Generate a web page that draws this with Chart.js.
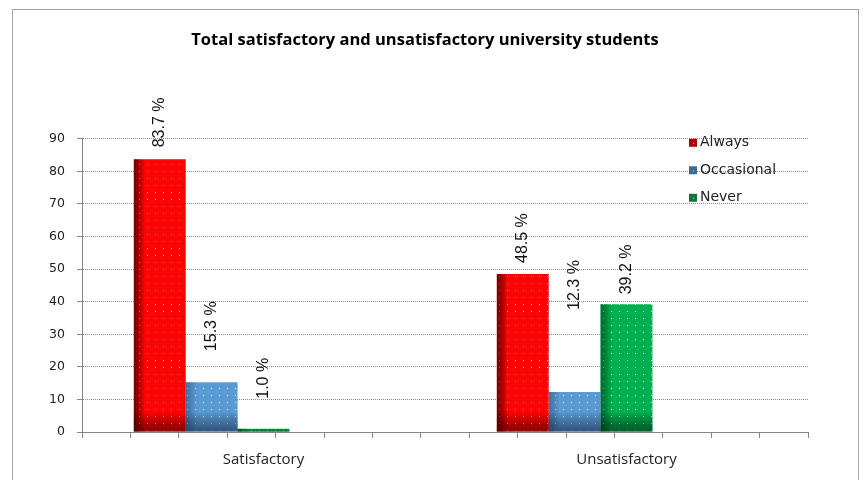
<!DOCTYPE html>
<html><head><meta charset="utf-8">
<script src="https://cdn.jsdelivr.net/npm/chart.js@4.4.1/dist/chart.umd.min.js"></script>
<style>
html,body{margin:0;padding:0;background:#fff;}
#wrap{position:relative;width:864px;height:480px;overflow:hidden;}
#frame{position:absolute;left:12px;top:9px;width:847px;height:490px;border:1px solid #a6a6a6;box-sizing:border-box;pointer-events:none;}
canvas{position:absolute;left:0;top:0;}
</style></head><body>
<div id="wrap"><canvas id="c" width="864" height="480"></canvas><div id="frame"></div></div>
<script>
const titleText = 'Total satisfactory and unsatisfactory university students';
const categories = ['Satisfactory', 'Unsatisfactory'];
const seriesNames = ['Always', 'Occasional', 'Never'];
const always = [83.7, 48.5];
const occasional = [15.3, 12.3];
const never = [1.0, 39.2];
const spacer = [null, null];
const yMin = 0, yMax = 90, yStep = 10;
const slotCount = 14;

function makePattern(base) {
  const t = document.createElement('canvas');
  t.width = 8; t.height = 7;
  const g = t.getContext('2d');
  g.fillStyle = base; g.fillRect(0, 0, 8, 7);
  g.fillStyle = 'rgba(255,255,255,0.85)'; g.fillRect(3, 3, 1, 1);
  return g.createPattern(t, 'repeat');
}

const shadePlugin = {
  id: 'shade',
  afterDatasetsDraw(chart) {
    const ctx = chart.ctx, ca = chart.chartArea;
    ctx.save();
    ctx.beginPath(); ctx.rect(ca.left, ca.top, ca.right - ca.left, ca.bottom - ca.top + 1); ctx.clip();
    chart.data.datasets.forEach((ds, di) => {
      if (!ds.shadeEdge) return;
      const meta = chart.getDatasetMeta(di);
      meta.data.forEach((bar, i) => {
        if (ds.data[i] == null) return;
        const p = bar.getProps(['x', 'y', 'base', 'width'], true);
        if (![p.x, p.y, p.base, p.width].every(Number.isFinite)) return;
        const l = p.x - p.width / 2, h = p.base - p.y;
        let g = ctx.createLinearGradient(l, 0, l + 11, 0);
        g.addColorStop(0, ds.shadeEdge); g.addColorStop(1, 'rgba(0,0,0,0)');
        ctx.fillStyle = g; ctx.fillRect(l, p.y, 11, h);
        const bh = Math.min(20, h);
        g = ctx.createLinearGradient(0, p.base - bh, 0, p.base);
        g.addColorStop(0, 'rgba(0,0,0,0)'); g.addColorStop(1, ds.shadeBottom);
        ctx.fillStyle = g; ctx.fillRect(l, p.base - bh, p.width, bh);
      });
    });
    ctx.restore();
  }
};

const labelPlugin = {
  id: 'barLabels',
  afterDatasetsDraw(chart, args, opts) {
    const ctx = chart.ctx;
    ctx.save();
    ctx.font = opts.font; ctx.fillStyle = opts.color;
    ctx.textAlign = 'left'; ctx.textBaseline = 'middle';
    chart.data.datasets.forEach((ds, di) => {
      if (!ds.shadeEdge) return;
      const meta = chart.getDatasetMeta(di);
      meta.data.forEach((bar, i) => {
        const v = ds.data[i];
        if (v == null) return;
        const lift = opts.lift[di][i];
        ctx.save();
        ctx.translate(bar.x, bar.y - lift);
        ctx.rotate(-Math.PI / 2);
        ctx.fillText(v.toFixed(1) + ' %', 0, 0);
        ctx.restore();
      });
    });
    ctx.restore();
  }
};

const legendPlugin = {
  id: 'insideLegend',
  afterDraw(chart, args, opts) {
    const ctx = chart.ctx, ca = chart.chartArea;
    ctx.save();
    ctx.font = opts.font; ctx.textBaseline = 'middle'; ctx.textAlign = 'left';
    let k = 0;
    chart.data.datasets.forEach((ds) => {
      if (!ds.shadeEdge) return;
      const x = ca.right - opts.offsetRight;
      const y = ca.top + opts.offsetTop + k * opts.spacing;
      ctx.fillStyle = ds.legendColor;
      ctx.fillRect(x, y - 4, 8, 8);
      ctx.fillStyle = 'rgba(255,255,255,0.7)';
      ctx.fillRect(x + 4, y, 1, 1);
      ctx.fillStyle = opts.color;
      ctx.fillText(ds.label, x + 11, y);
      k++;
    });
    ctx.restore();
  }
};

const ctx = document.getElementById('c').getContext('2d');
new Chart(ctx, {
  type: 'bar',
  data: {
    labels: categories,
    datasets: [
      { label: seriesNames[0], data: always, xAxisID: 'x', yAxisID: 'y', backgroundColor: makePattern('#ff0000'), shadeEdge: 'rgba(70,0,0,0.75)', shadeBottom: 'rgba(60,0,0,0.6)', legendColor: '#b40000' },
      { label: seriesNames[1], data: occasional, xAxisID: 'x', yAxisID: 'y', backgroundColor: makePattern('#5b9bd5'), shadeEdge: 'rgba(20,40,70,0.35)', shadeBottom: 'rgba(20,40,70,0.6)', legendColor: '#3b6a98' },
      { label: seriesNames[2], data: never, xAxisID: 'x', yAxisID: 'y', backgroundColor: makePattern('#00b050'), shadeEdge: 'rgba(0,50,20,0.55)', shadeBottom: 'rgba(0,45,15,0.65)', legendColor: '#17753a' },
      { label: '', data: spacer, xAxisID: 'x', yAxisID: 'y', backgroundColor: 'rgba(0,0,0,0)' },
      { label: '', data: spacer, xAxisID: 'x', yAxisID: 'y', backgroundColor: 'rgba(0,0,0,0)' }
    ]
  },
  options: {
    responsive: false,
    animation: false,
    devicePixelRatio: 1,
    layout: { padding: { left: 42, right: 56, top: 0, bottom: 0 } },
    datasets: { bar: { categoryPercentage: 5 / 7, barPercentage: 1, borderWidth: 0 } },
    plugins: {
      legend: { display: false },
      tooltip: { enabled: false },
      title: {
        display: true, text: titleText, color: '#000',
        font: { family: 'Open Sans', size: 16.5, weight: 'bold', lineHeight: 1.2 },
        padding: { top: 30, bottom: 89 }
      },
      barLabels: { font: '16px "Liberation Sans"', color: '#111', lift: [[12, 11], [31, 82], [30, 10]] },
      insideLegend: { font: '14px "DejaVu Sans"', color: '#222', offsetRight: 119, offsetTop: 4, spacing: 27.5 }
    },
    scales: {
      x2: {
        type: 'linear', position: 'bottom', min: 0, max: slotCount, weight: 0,
        ticks: { display: false, stepSize: 1 },
        grid: { drawOnChartArea: false, drawTicks: true, tickLength: 6, color: '#868686' },
        border: { display: true, color: '#868686' }
      },
      x: {
        type: 'category', position: 'bottom', weight: 1, offset: true,
        grid: { display: false },
        border: { display: false },
        ticks: { color: '#222', font: { family: 'Open Sans', size: 15 }, padding: 5 },
        afterFit: (s) => { s.height = 42; }
      },
      y: {
        min: yMin, max: yMax,
        ticks: { stepSize: yStep, color: '#222', font: { family: 'DejaVu Sans', size: 12.5 }, padding: 12 },
        grid: { color: '#8c8c8c', tickColor: '#868686', tickLength: 5, drawTicks: true },
        border: { display: true, color: '#868686', dash: [1, 1] },
        afterFit: (s) => { s.width = 40; }
      }
    }
  },
  plugins: [shadePlugin, labelPlugin, legendPlugin]
});
</script>
</body></html>
